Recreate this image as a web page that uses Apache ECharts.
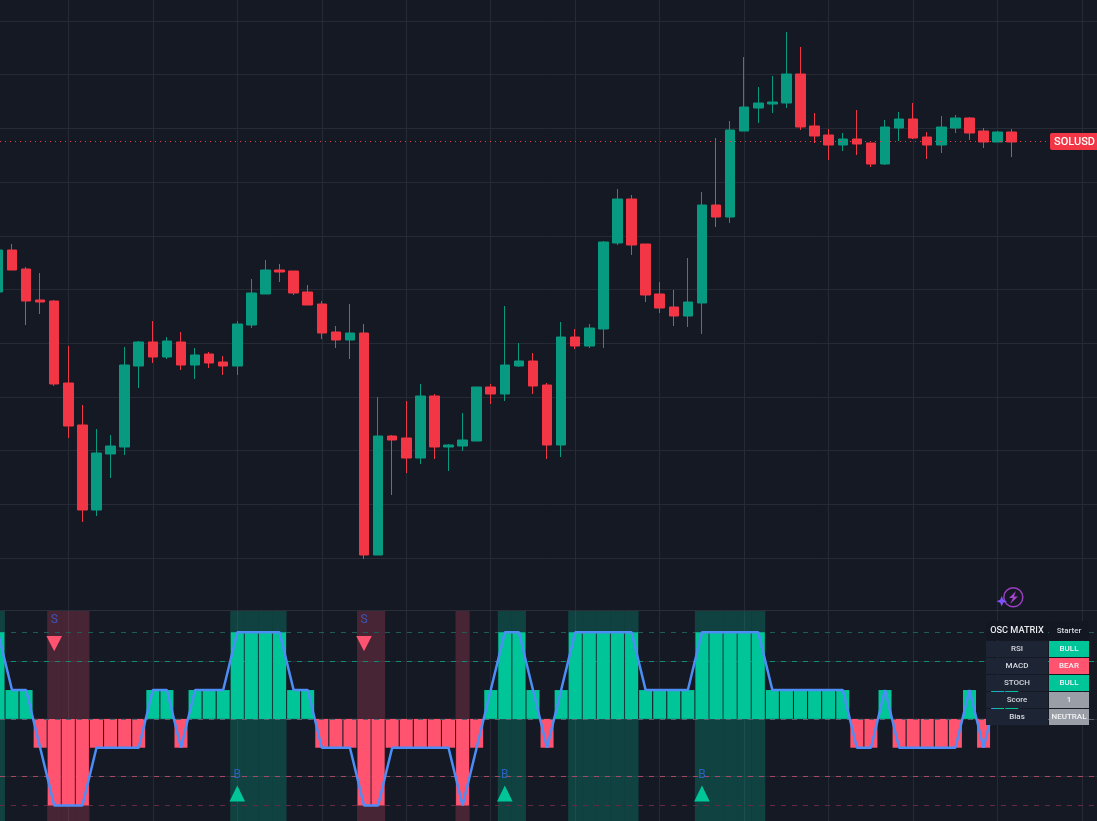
<!DOCTYPE html>
<html><head><meta charset="utf-8">
<style>html,body{margin:0;padding:0;background:#151924;overflow:hidden}#c{width:1097px;height:821px}</style>
<script src="https://cdn.jsdelivr.net/npm/echarts@6/dist/echarts.min.js"></script>
</head><body><div id="c"></div>
<script>
const bgColor='#151924', upColor='#089981', downColor='#F23645', bullColor='#00C599', bearColor='#FF5370', grayColor='#9A9EA6', lineBlue='#4C8DF6';
const symbolName='SOLUSD', lastPrice=146.85;
const barIndex=[-1,0,1,2,3,4,5,6,7,8,9,10,11,12,13,14,15,16,17,18,19,20,21,22,23,24,25,26,27,28,29,30,31,32,33,34,35,36,37,38,39,40,41,42,43,44,45,46,47,48,49,50,51,52,53,54,55,56,57,58,59,60,61,62,63,64,65,66,67,68,69,70,71];
const opens=[131.8,136,134.1,131,130.9,122.7,118.5,110,115.6,116.3,124.4,126.8,125.3,126.8,124.5,125.6,124.8,124.4,128.5,131.6,134,133.9,131.8,130.6,127.8,127,127.7,105.5,117.4,117.2,115.2,121.4,116.3,116.4,116.9,122.3,121.6,124.4,124.9,122.5,116.5,127.3,126.4,128.1,136.7,141.1,136.6,131.6,130.3,129.4,130.7,140.5,139.3,147.9,150.2,150.6,150.7,153.6,148.4,147.5,146.5,147.1,146.7,144.6,148.2,149.1,147.3,146.5,148.2,149.2,147.9,146.8,147.8];
const closes=[136,134,130.9,130.8,122.6,118.4,110,115.7,116.4,124.5,126.8,125.3,126.9,124.5,125.5,124.7,124.4,128.6,131.7,134,133.8,131.7,130.5,127.7,127,127.7,105.5,117.4,117,115.2,121.4,116.3,116.5,117,122.3,121.6,124.5,124.9,122.4,116.5,127.3,126.4,128.2,136.8,141.1,136.5,131.5,130.2,129.4,130.8,140.5,139.3,148,150.3,150.7,150.8,153.6,148.3,147.4,146.5,147.1,146.6,144.6,148.3,149.1,147.2,146.5,148.3,149.2,147.7,146.8,147.8,146.8];
const lows=[131.8,134,128.5,129.6,122.4,117.2,108.8,109.4,113.2,115.5,122.2,124.7,125.1,124,123.1,124.2,123.5,123.5,128.2,131.6,132.8,131.5,130.5,127.1,126.2,125.1,105.1,105.5,111.5,113.7,114.6,115.1,113.9,115.9,116.9,120.6,120.9,124.3,121.6,115.1,115.3,126.1,126.2,126.2,136.5,135.5,130.8,129.7,128.4,128.3,127.6,138.3,138.7,147.9,148.7,149.7,150.2,148,146.7,145,145.9,145.5,144.3,144.5,146.9,147.1,145.1,145.7,147.7,147,146.2,146.8,145.3];
const highs=[136,136.6,134.3,133.7,131,126.4,120.5,118.1,117.5,126.3,126.9,128.9,127.3,127.8,126.2,125.8,125.4,128.9,133.1,135,134.6,133.9,132.5,130.9,128.4,130.6,128.6,121.3,117.5,120.9,122.6,121.6,116.6,119.7,122.3,122.6,130.4,126.7,125.7,122.7,128.8,128.1,128.6,136.9,142.1,141.5,136.6,132.8,132,135.2,141.8,147.2,148.9,155.3,152.3,153.4,157.8,156.3,149.7,148.1,147.7,150,146.7,149,149.8,150.7,147.8,149.4,149.5,149.3,148.2,147.9,148.1];
const matrixScore=[3,1,1,-1,-3,-3,-3,-1,-1,-1,-1,1,1,-1,1,1,1,3,3,3,3,1,1,-1,-1,-1,-3,-3,-1,-1,-1,-1,-1,-3,-1,1,3,3,1,-1,1,3,3,3,3,3,1,1,1,1,3,3,3,3,3,1,1,1,1,1,1,-1,-1,1,-1,-1,-1,-1,-1,1,-1,1,1];
const zoneSign=[1,0,0,0,-1,-1,-1,0,0,0,0,0,0,0,0,0,0,1,1,1,1,0,0,0,0,0,-1,-1,0,0,0,0,0,-1,0,0,1,1,0,0,0,1,1,1,1,1,0,0,0,0,1,1,1,1,1,0,0,0,0,0,0,0,0,0,0,0,0,0,0,0,0,0];
const priceGridLevels=[158.9,153.53,148.16,142.79,137.42,132.05,126.68,121.31,115.94,110.57,105.2];
const timeGridBars=[4,10,16,22,28,34,40,46,52,58,64,70,76];
const sellSignals=[[3,2.61],[25,2.61]];
const buySignals=[[-1,-2.59],[16,-2.59],[35,-2.59],[49,-2.59]];
const sellLetters=[[3,3.43],[25,3.43]];
const buyLetters=[[-1,-1.93],[16,-1.93],[35,-1.93],[49,-1.93]];
const tableRows=[['RSI','BULL'],['MACD','BEAR'],['STOCH','BULL'],['Score','1'],['Bias','NEUTRAL']];

const gridCol='#262A35';
const vLines=timeGridBars.map(c=>({xAxis:c}));
const gridOpt=(idx)=>({type:'line',xAxisIndex:idx,yAxisIndex:idx,data:[],silent:true,z:1,
  markLine:{z:1,silent:true,symbol:'none',animation:false,label:{show:false},lineStyle:{color:gridCol,width:1,type:'solid'},
    data:idx===0?vLines.concat(priceGridLevels.map(v=>({yAxis:v}))):vLines.concat([2,0,-2].map(v=>({yAxis:v})))}});
const dashed=(v,c)=>({yAxis:v,lineStyle:{color:c,width:1,type:[5,6]}});

const rect=(x,y,w,h,fill,z,r)=>({type:'rect',silent:true,z:z||60,shape:{x:x,y:y,width:w,height:h,r:r||0},style:{fill:fill}});
const txt=(x,y,t,fill,font,align)=>({type:'text',silent:true,z:61,x:x,y:y,style:{text:t,fill:fill,font:font,align:align||'center',verticalAlign:'middle'}});
const graphicEls=[];
graphicEls.push(rect(0,610,1097,1,'#2A2E39',50));
graphicEls.push(rect(1050,133,47,17,downColor,60,[2,0,0,2]));
graphicEls.push(txt(1074.5,142,symbolName,'#fff','500 11px Roboto'));
const tx=986,lw=62,rx=1049,rw=40;
graphicEls.push(rect(tx,621,lw,19,'#131722'));
graphicEls.push(rect(rx,621,rw,19,'#131722'));
graphicEls.push(txt(tx+lw/2,630.5,'OSC MATRIX','#E8EAEE','500 9.2px Roboto'));
graphicEls.push(txt(rx+rw/2,630.5,'Starter','#D6D9DF','500 8px Roboto'));
tableRows.forEach((r,k)=>{
  const y=641+17*k, col=r[1]==='BULL'?bullColor:r[1]==='BEAR'?bearColor:grayColor;
  graphicEls.push(rect(tx,y,lw,16,'#1D2434'));
  graphicEls.push(rect(rx,y,rw,16,col));
  graphicEls.push(txt(tx+lw/2,y+8,r[0],'#D6D9DF','500 8px Roboto'));
  graphicEls.push(txt(rx+rw/2,y+8,r[1],'#F2F3F5','500 8px Roboto'));
});
graphicEls.push({type:'circle',silent:true,z:60,shape:{cx:1013.3,cy:597.3,r:9.5},style:{fill:'none',stroke:'#9A3FBF',lineWidth:1.5}});
graphicEls.push({type:'polygon',silent:true,z:60,shape:{points:[[1016,591],[1009,598],[1013,598],[1010,604],[1018,596.5],[1014,596.5]]},style:{fill:'#A845D0'}});
graphicEls.push({type:'polygon',silent:true,z:60,shape:{points:[[1001.7,596],[1003.2,599.8],[1007,601.3],[1003.2,602.8],[1001.7,606.5],[1000.2,602.8],[996.5,601.3],[1000.2,599.8]]},style:{fill:'#8052FF'}});

const xMin=-0.852, xMax=77.056;
const xAx=(g)=>({type:'value',gridIndex:g,min:xMin,max:xMax,show:false,splitLine:{show:false}});
const option={
  backgroundColor:bgColor,animation:false,
  grid:[{left:0,top:0,width:1097,height:610},{left:0,top:611,width:1097,height:210}],
  xAxis:[xAx(0),xAx(1),xAx(1)],
  yAxis:[
    {type:'value',gridIndex:0,min:100,max:161,show:false,splitLine:{show:false}},
    {type:'value',gridIndex:1,min:-3.54,max:3.74,show:false,splitLine:{show:false}},
    {type:'value',gridIndex:1,min:0,max:1,show:false,splitLine:{show:false}}
  ],
  graphic:{elements:graphicEls},
  series:[
    gridOpt(0),
    gridOpt(1),
    {type:'bar',name:'zones',xAxisIndex:2,yAxisIndex:2,barWidth:14.08,z:2,silent:true,
      data:zoneSign.map((s,i)=>s===0?null:{value:[barIndex[i],1],itemStyle:{color:s>0?'rgba(0,197,153,0.24)':'rgba(255,83,112,0.22)'}}).filter(d=>d)},
    {type:'line',xAxisIndex:1,yAxisIndex:1,data:[],silent:true,z:3,
      markLine:{z:3,silent:true,symbol:'none',animation:false,label:{show:false},
        data:[dashed(3,'#1F5C55'),dashed(2,'#0E8C78'),dashed(-2,'#A54A62'),dashed(-3,'#66293F')]}},
    {type:'bar',name:'Matrix',xAxisIndex:1,yAxisIndex:1,barWidth:13,z:4,
      data:matrixScore.map((v,i)=>({value:[barIndex[i],v],itemStyle:{color:v>0?bullColor:bearColor}}))},
    {type:'line',xAxisIndex:1,yAxisIndex:1,data:[],silent:true,z:5,
      markLine:{z:5,silent:true,symbol:'none',animation:false,label:{show:false},data:[dashed(0,'#5A6070')]}},
    {type:'line',name:'Score',xAxisIndex:1,yAxisIndex:1,data:matrixScore.map((v,i)=>[barIndex[i],v]),showSymbol:false,symbol:'none',
      lineStyle:{color:lineBlue,width:2.5},z:6},
    {type:'scatter',xAxisIndex:1,yAxisIndex:1,data:sellSignals,symbol:'triangle',symbolRotate:180,symbolSize:[15.6,15.4],itemStyle:{color:bearColor,opacity:1},z:7},
    {type:'scatter',xAxisIndex:1,yAxisIndex:1,data:buySignals,symbol:'triangle',symbolSize:[15.6,16],itemStyle:{color:bullColor,opacity:1},z:7},
    {type:'scatter',xAxisIndex:1,yAxisIndex:1,data:sellLetters,symbolSize:1,itemStyle:{color:'rgba(0,0,0,0)'},z:7,
      label:{show:true,position:'inside',formatter:'S',color:'#3B62D6',fontSize:12,fontFamily:'Roboto'}},
    {type:'scatter',xAxisIndex:1,yAxisIndex:1,data:buyLetters,symbolSize:1,itemStyle:{color:'rgba(0,0,0,0)'},z:7,
      label:{show:true,position:'inside',formatter:'B',color:'#3266DB',fontSize:12,fontFamily:'Roboto'}},
    {type:'candlestick',xAxisIndex:0,yAxisIndex:0,barWidth:10,z:5,clip:false,layout:'horizontal',
      encode:{x:0,y:[1,2,3,4]},
      itemStyle:{color:upColor,color0:downColor,borderColor:upColor,borderColor0:downColor,borderWidth:1},
      data:opens.map((o,i)=>[barIndex[i],o,closes[i],lows[i],highs[i]])},
    {type:'line',xAxisIndex:0,yAxisIndex:0,data:[],silent:true,z:6,
      markLine:{z:6,silent:true,symbol:'none',animation:false,label:{show:false},
        data:[{yAxis:lastPrice,lineStyle:{color:downColor,width:1,type:[1,4]}}]}}
  ]
};
const chart=echarts.init(document.getElementById('c'),null,{renderer:'canvas',width:1097,height:821});
chart.setOption(option);
</script></body></html>
